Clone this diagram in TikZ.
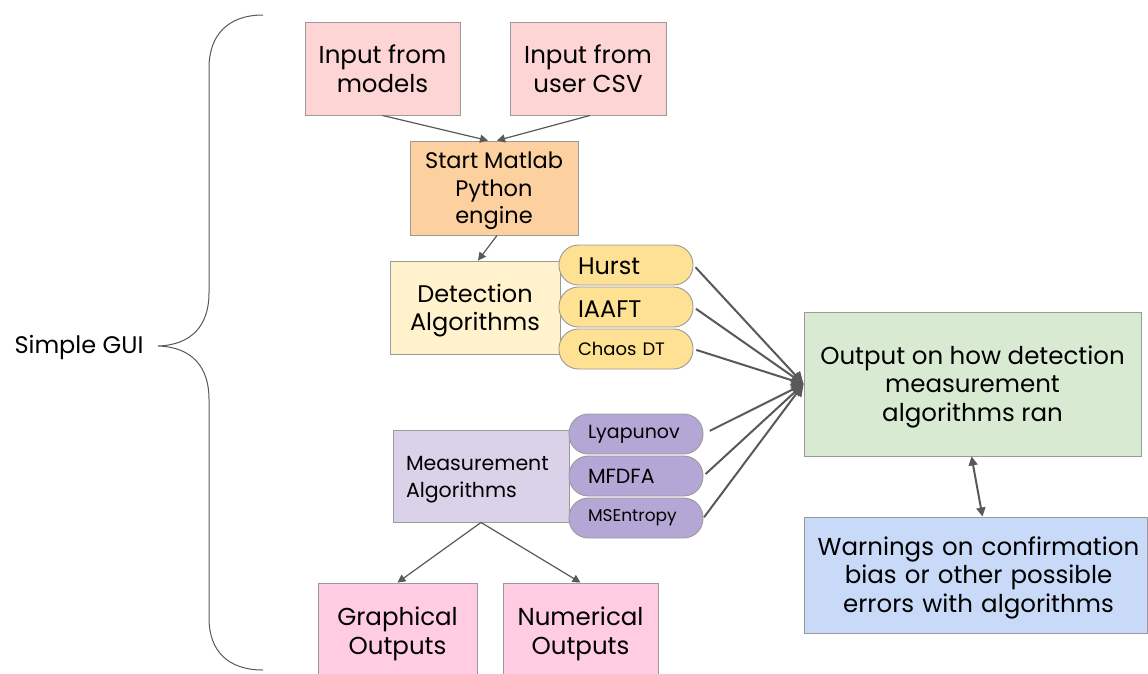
\documentclass[tikz,border=0pt]{standalone}
\usepackage{fontspec}
\setmainfont{Poppins}
\usetikzlibrary{arrows.meta}
\definecolor{bordergray}{HTML}{9A9A9A}
\definecolor{arrowgray}{HTML}{595959}
\definecolor{inpink}{HTML}{FDD5D5}
\definecolor{engorange}{HTML}{FCD09F}
\definecolor{detyellow}{HTML}{FFF2CC}
\definecolor{pillyellow}{HTML}{FFE194}
\definecolor{measpurple}{HTML}{D9D2E9}
\definecolor{pillpurple}{HTML}{B4A7D6}
\definecolor{outgreen}{HTML}{D9EAD3}
\definecolor{warnblue}{HTML}{C9DAF8}
\definecolor{outpink}{HTML}{FFCCE1}
\newcommand{\fsz}[2]{\fontsize{#1}{#2}\selectfont}
\newcommand{\tstrut}[1]{\rule{0pt}{#1}}
\begin{document}
\begin{tikzpicture}[x=1pt,y=-1pt,
  box/.style={draw=bordergray, line width=0.9pt, align=center, inner sep=0pt},
  pill/.style={draw=bordergray, line width=0.9pt, rounded corners=19.5pt,
    minimum width=134pt, minimum height=40pt, inner sep=0pt, align=left},
  thinarr/.style={draw=arrowgray, line width=1.2pt, -{Triangle[length=8pt,width=8pt]}},
  thickarr/.style={draw=arrowgray, line width=2pt, -{Triangle[length=12pt,width=12pt]}, shorten <=3pt},
  dblarr/.style={draw=arrowgray, line width=2pt, {Triangle[length=9pt,width=9pt]}-{Triangle[length=9pt,width=9pt]}}
]
\useasboundingbox (0,0) rectangle (1148,673);
\fill[white] (0,0) rectangle (1148,673);

% brace and label
\coordinate (btop) at (263,15);
\coordinate (btip) at (158,346);
\coordinate (bbot) at (263,670);
\draw[draw=arrowgray, line width=1pt]
  (btop) .. controls (228,15) and (209,35) .. (209,68) -- (209,293)
  .. controls (209,325) and (192,345) .. (btip)
  .. controls (192,347) and (209,367) .. (209,399) -- (209,618)
  .. controls (209,651) and (228,670) .. (bbot);
\node[font=\fsz{24}{28}, anchor=west] (gui) at (11,347) {Simple GUI};

% top inputs
\node[box, fill=inpink, minimum width=155pt, minimum height=93pt, font=\fsz{24.5}{29}] (in1) at (382.5,68.5)
  {Input from\\models};
\node[box, fill=inpink, minimum width=156pt, minimum height=93pt, font=\fsz{24.5}{29}] (in2) at (588,68.5)
  {Input from\\user CSV};
\node[box, fill=engorange, minimum width=168pt, minimum height=94pt, font=\fsz{22.5}{27.5}] (eng) at (494,188)
  {\tstrut{22.5pt}Start Matlab\\Python\\engine};

% detection
\node[box, fill=detyellow, minimum width=170pt, minimum height=93pt, font=\fsz{24}{27.5}] (det) at (475,307.5)
  {\tstrut{24pt}Detection\\Algorithms};
\node[pill, fill=pillyellow, text width=96pt, font=\fsz{24}{26}] (hurst) at (626,265) {\tstrut{20pt}Hurst};
\node[pill, fill=pillyellow, text width=96pt, font=\fsz{24}{26}] (iaaft) at (626,307) {\tstrut{20pt}IAAFT};
\node[pill, fill=pillyellow, text width=96pt, font=\fsz{18}{20}] (chaos) at (626,349) {Chaos DT};

% measurement
\node[box, fill=measpurple, minimum width=176pt, minimum height=92pt, text width=150pt, align=left, font=\fsz{20.5}{26.5}] (meas) at (481,476)
  {\tstrut{22pt}Measurement\\Algorithms};
\node[pill, fill=pillpurple, text width=96pt, font=\fsz{19}{20}] (lyap) at (636,434) {Lyapunov};
\node[pill, fill=pillpurple, text width=96pt, font=\fsz{20.5}{20}] (mfdfa) at (636,476) {MFDFA};
\node[pill, fill=pillpurple, text width=96pt, font=\fsz{17}{20}] (mse) at (636,518) {MSEntropy};

% outputs
\node[box, fill=outpink, minimum width=159pt, minimum height=92pt, font=\fsz{24.5}{28.5}] (graph) at (397.5,629)
  {\tstrut{28pt}Graphical\\Outputs};
\node[box, fill=outpink, minimum width=155pt, minimum height=92pt, font=\fsz{24.5}{28.5}] (num) at (580.5,629)
  {\tstrut{28pt}Numerical\\Outputs};

% right side
\node[box, fill=outgreen, minimum width=337pt, minimum height=144pt, font=\fsz{24.5}{28.5}] (out) at (972.5,384)
  {\tstrut{24pt}Output on how detection\\measurement\\algorithms ran};
\node[box, fill=warnblue, minimum width=343pt, minimum height=116pt, font=\fsz{24.5}{28.5}, text width=343pt] (warn) at (975.5,575)
  {\tstrut{24pt}\hspace*{6pt}Warnings on confirmation\\\hspace*{6pt}bias or other possible\\\hspace*{6pt}errors with algorithms};

% connectors
\draw[thinarr] (in1.south) -- ([xshift=-6pt]eng.north);
\draw[thinarr] ([xshift=2pt]in2.south) -- ([xshift=3pt]eng.north);
\draw[thinarr] ([xshift=3pt]eng.south) -- ([xshift=3pt]det.north);
\draw[thickarr] (hurst.east) -- (out.west);
\draw[thickarr] (iaaft.east) -- (out.west);
\draw[thickarr] (chaos.east) -- (out.west);
\draw[thickarr, shorten <=7pt] (lyap.east) -- (out.west);
\draw[thickarr] (mfdfa.east) -- (out.west);
\draw[thickarr, shorten <=1pt] (mse.east) -- (out.west);
\draw[thinarr] (meas.south) -- (graph.north);
\draw[thinarr] (meas.south) -- (num.north);
\draw[dblarr] ([xshift=-1pt]out.south) -- ([xshift=7pt]warn.north);
\end{tikzpicture}
\end{document}
